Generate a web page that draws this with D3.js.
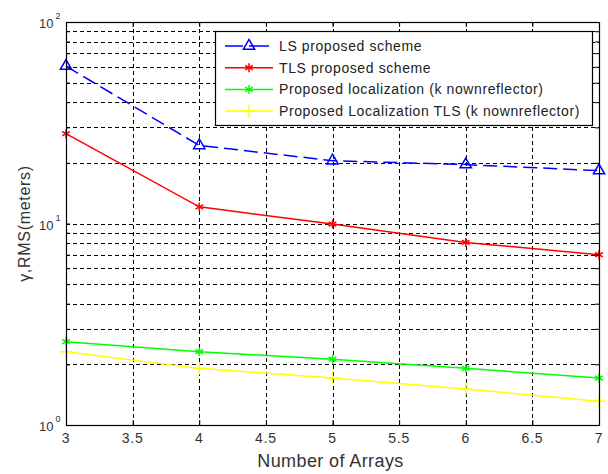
<!DOCTYPE html>
<html>
<head>
<meta charset="utf-8">
<script src="https://cdn.jsdelivr.net/npm/d3@7"></script>
<style>
  body { margin: 0; background: #fff; }
  text { font-family: "Liberation Sans", Arial, sans-serif; }
</style>
</head>
<body>
<svg id="chart" width="608" height="474"></svg>
<script>
// values
const arrays = [3, 4, 5, 6, 7]
const lsProposed = [60.4, 24.4, 20.5, 19.6, 18.3]
const tlsProposed = [27.9, 12.1, 9.94, 8.05, 7.0]
const knownReflector = [2.59, 2.31, 2.12, 1.91, 1.71]
const knownReflectorTls = [2.31, 1.91, 1.71, 1.51, 1.31]

const seriesNames = ['LS proposed scheme', 'TLS proposed scheme',
  'Proposed localization (k nownreflector)', 'Proposed Localization TLS (k nownreflector)']
const xTicks = [3, 3.5, 4, 4.5, 5, 5.5, 6, 6.5, 7]
const xTickLabels = ['3', '3.5', '4', '4.5', '5', '5.5', '6', '6.5', '7']
const yDecades = [1, 10, 100]
const yExponents = ['0', '1', '2']

class LogLineChart {
  constructor (svg, box) {
    this.svg = svg
    this.box = box
    this.x = d3.scaleLinear().domain([3, 7]).range([box.left, box.right])
    this.y = d3.scaleLog().domain([1, 100]).range([box.bottom, box.top])
  }

  drawGrid () {
    var that = this
    var g = this.svg.append('g').attr('class', 'grid')
      .attr('stroke', '#000').attr('stroke-width', 1).attr('stroke-dasharray', '4,3')
    g.selectAll('.hgrid').data(that.y.ticks().filter(v => v > 1 && v < 100))
      .enter().append('line')
      .attr('x1', that.box.left).attr('x2', that.box.right)
      .attr('y1', d => Math.round(that.y(d)) + 0.5).attr('y2', d => Math.round(that.y(d)) + 0.5)
    g.selectAll('.vgrid').data(xTicks.slice(1, -1))
      .enter().append('line')
      .attr('y1', that.box.top).attr('y2', that.box.bottom)
      .attr('x1', d => Math.round(that.x(d)) + 0.5).attr('x2', d => Math.round(that.x(d)) + 0.5)
  }

  drawAxes () {
    var that = this
    var b = this.box
    var frame = this.svg.append('g')
    var inner = function (axis, size) { return axis.tickSizeInner(size).tickSizeOuter(0).tickFormat('') }

    frame.append('g').attr('transform', `translate(0,${b.bottom})`)
      .call(inner(d3.axisBottom(that.x).tickValues(xTicks), -5))
    frame.append('g').attr('transform', `translate(0,${b.top})`)
      .call(inner(d3.axisTop(that.x).tickValues(xTicks), -5))
    frame.append('g').attr('transform', `translate(${b.left},0)`)
      .call(inner(d3.axisLeft(that.y).tickValues(that.y.ticks()), -4))
    frame.append('g').attr('transform', `translate(${b.right},0)`)
      .call(inner(d3.axisRight(that.y).tickValues(that.y.ticks()), -4))
    frame.selectAll('.domain').remove()
    frame.selectAll('line').attr('stroke', '#000')

    frame.append('rect')
      .attr('x', b.left + 0.5).attr('y', b.top + 0.5)
      .attr('width', b.right - b.left).attr('height', b.bottom - b.top)
      .attr('fill', 'none').attr('stroke', '#000').attr('stroke-width', 1.2)

    // tick labels
    this.svg.append('g').selectAll('text').data(xTicks)
      .enter().append('text')
      .attr('x', d => that.x(d)).attr('y', b.bottom + 18)
      .attr('text-anchor', 'middle').attr('font-size', 14).attr('letter-spacing', 0.8)
      .attr('fill', '#333')
      .text((d, i) => xTickLabels[i])

    var yl = this.svg.append('g').selectAll('text').data(yDecades)
      .enter().append('text')
      .attr('x', 39).attr('y', d => that.y(d) + 6)
      .attr('font-size', 13).attr('fill', '#333')
    yl.append('tspan').text('10')
    yl.append('tspan').attr('dx', 2).attr('dy', -9).attr('font-size', 9).text((d, i) => yExponents[i])

    this.svg.append('text')
      .attr('x', (b.left + b.right) / 2 - 2).attr('y', 467)
      .attr('text-anchor', 'middle').attr('font-size', 18).attr('letter-spacing', 0.4)
      .attr('fill', '#333')
      .text('Number of Arrays')
    this.svg.append('text')
      .attr('transform', `translate(30,${(b.top + b.bottom) / 2}) rotate(-90)`)
      .attr('text-anchor', 'middle').attr('font-size', 16).attr('letter-spacing', 0.7)
      .attr('fill', '#333')
      .text('γ,RMS(meters)')
  }

  addSeries (values, color, symbol, dash) {
    var that = this
    var line = d3.line().x((d, i) => that.x(arrays[i])).y(d => that.y(d))
    this.svg.append('path').datum(values)
      .attr('d', line).attr('fill', 'none')
      .attr('stroke', color).attr('stroke-width', 1.5)
      .attr('stroke-dasharray', dash || null)
    this.svg.append('g').selectAll('path').data(values)
      .enter().append('path')
      .attr('transform', (d, i) => `translate(${that.x(arrays[i])},${that.y(d)})`)
      .attr('d', d3.symbol(symbol, 55))
      .attr('fill', 'none').attr('stroke', color).attr('stroke-width', 1.5)
  }

  drawLegend (items) {
    var lg = this.svg.append('g')
    lg.append('rect')
      .attr('x', 215.5).attr('y', 31.5).attr('width', 377).attr('height', 94)
      .attr('fill', '#fff').attr('stroke', '#000').attr('stroke-width', 1.2)
    var row = lg.selectAll('.row').data(items)
      .enter().append('g')
      .attr('transform', (d, i) => `translate(0,${46 + i * 21.7})`)
    row.append('line')
      .attr('x1', 225).attr('x2', 273).attr('y1', 0).attr('y2', 0)
      .attr('stroke', d => d.color).attr('stroke-width', 1.5)
      .attr('stroke-dasharray', d => d.dash ? '18,6,20' : null)
    row.append('path')
      .attr('transform', 'translate(249,0)')
      .attr('d', d => d3.symbol(d.symbol, 55)())
      .attr('fill', 'none').attr('stroke', d => d.color).attr('stroke-width', 1.5)
    row.append('text')
      .attr('x', 279).attr('y', 5)
      .attr('font-size', 14).attr('letter-spacing', 0.6).attr('fill', '#222')
      .text(d => d.name)
  }
}

const svg = d3.select('#chart')
const chart = new LogLineChart(svg, { left: 66, right: 599, top: 22, bottom: 425 })
chart.drawGrid()
chart.addSeries(lsProposed, '#0000ff', d3.symbolTriangle, '14,6')
chart.addSeries(tlsProposed, '#ff0000', d3.symbolAsterisk)
chart.addSeries(knownReflector, '#00ff00', d3.symbolAsterisk)
chart.addSeries(knownReflectorTls, '#ffff00', d3.symbolPlus)
chart.drawAxes()
chart.drawLegend([
  { name: seriesNames[0], color: '#0000ff', symbol: d3.symbolTriangle, dash: true },
  { name: seriesNames[1], color: '#ff0000', symbol: d3.symbolAsterisk },
  { name: seriesNames[2], color: '#00ff00', symbol: d3.symbolAsterisk },
  { name: seriesNames[3], color: '#ffff00', symbol: d3.symbolPlus }
])
</script>
</body>
</html>
